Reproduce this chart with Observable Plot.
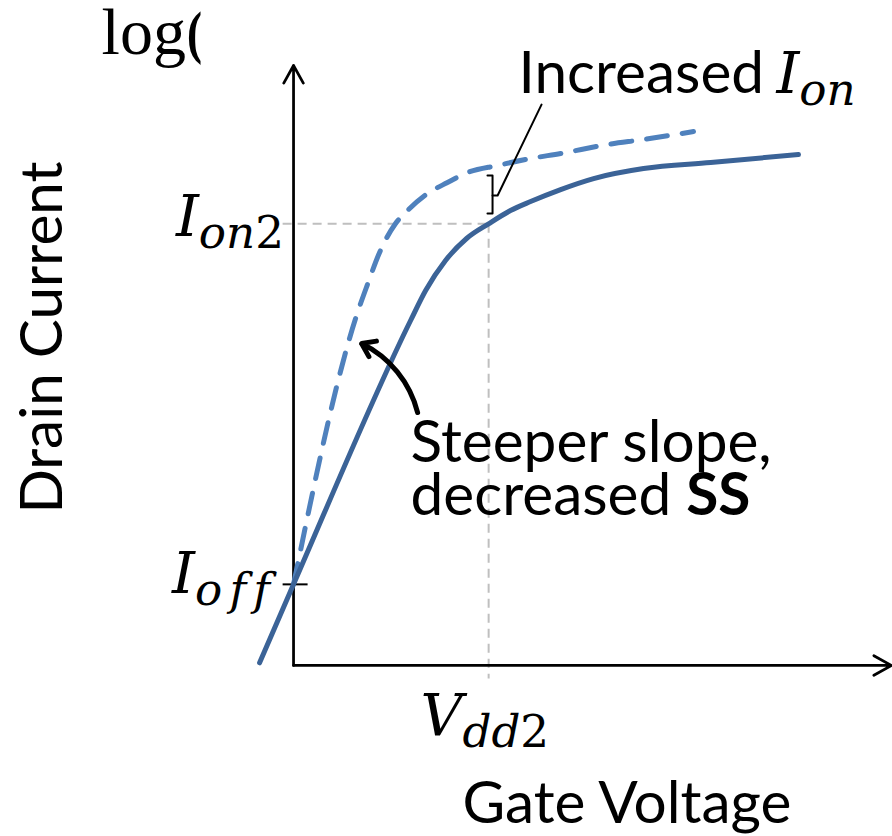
<!DOCTYPE html>
<html>
<head>
<meta charset="utf-8">
<script src="https://cdn.jsdelivr.net/npm/d3@7"></script>
<script src="https://cdn.jsdelivr.net/npm/@observablehq/plot@0.6"></script>
<style>
  body { margin: 0; background: #fff; }
  svg { display: block; }
</style>
</head>
<body>
<div id="chart"></div>
<script>
// Schematic transfer characteristic: log(drain current) vs gate voltage.
// Units are arbitrary: Vdd2 = 1 on the voltage axis, log-current in decades.
const IOFF = 0.9;
const ION2 = 4.9;
const VDD2 = 1;

// Baseline device (solid)
const baseVg   = [-0.174, 0, 0.600, 0.677, 0.779, 0.887, 1.0, 1.112, 1.215, 1.369, 1.538, 1.794, 2.138, 2.588];
const baseLogI = [0.03, 0.9, 3.827, 4.160, 4.493, 4.737, 4.9, 5.047, 5.147, 5.280, 5.402, 5.513, 5.580, 5.668];

// Steep-slope device (dashed)
const steepVg   = [0, 0.328, 0.379, 0.441, 0.523, 0.584, 0.687, 0.789, 0.892, 1.046, 1.215, 1.369, 1.609, 1.794, 2.050];
const steepLogI = [0.9, 3.916, 4.227, 4.582, 4.904, 5.047, 5.236, 5.358, 5.469, 5.547, 5.624, 5.680, 5.779, 5.835, 5.923];

// Axis extents
const vgMax = 3.065;
const logIMax = 6.656;

// Bracket marking the on-current gain at Vdd2, and its leader line
const bracketVg   = [0.994, 1.020, 1.020, 0.994];
const bracketLogI = [5.435, 5.435, 5.014, 5.014];
const leaderVg    = [1.020, 1.046, 1.271];
const leaderLogI  = [5.214, 5.214, 6.222];

// Curved pointer to the steeper subthreshold region
const pointer = [{x1: 0.636, y1: 2.806, x2: 0.349, y2: 3.572}];

// Text labels
const plainLabels = [
  {text: "Increased",      x: 1.153, y: 6.356},
  {text: "Steeper slope,", x: 0.600, y: 2.252},
  {text: "decreased SS",   x: 0.600, y: 1.664},
  {text: "Gate Voltage",   x: 0.866, y: -1.752}
];
const mathLabels = [
  {main: "I", sub: "on",  digits: "2", x: -0.603, y: 4.759},
  {main: "I", sub: "off", digits: "",  x: -0.623, y: 0.799},
  {main: "V", sub: "dd",  digits: "2", x: 0.651,  y: -0.776},
  {main: "I", sub: "on",  digits: "",  x: 2.475,  y: 6.356}
];
const yTitle = [{text: "Drain Current", x: -1.281, y: 3.638}];
const logTitle = [{text: "log(", x: -0.984, y: 6.789}];

const zip = (xs, ys) => xs.map((x, i) => ({x, y: ys[i]}));
const base = zip(baseVg, baseLogI);
const steep = zip(steepVg, steepLogI);
const bracket = zip(bracketVg, bracketLogI);
const leader = zip(leaderVg, leaderLogI);

const SANS = "Lato, 'Open Sans', sans-serif";
const MATH = "'DejaVu Serif', serif";

const chart = Plot.plot({
  width: 892,
  height: 836,
  margin: 0,
  x: {domain: [-1.502, 3.070], axis: null},
  y: {domain: [-1.897, 7.377], axis: null},
  style: {background: "#fff", overflow: "visible"},
  marks: [
    // dashed guides to Ion2 and Vdd2
    Plot.link([{x1: -0.056, y1: ION2, x2: VDD2, y2: ION2}, {x1: VDD2, y1: ION2, x2: VDD2, y2: -0.144}], {
      x1: "x1", y1: "y1", x2: "x2", y2: "y2",
      stroke: "#bfbfbf", strokeWidth: 2, strokeDasharray: "9,6"
    }),
    // Ioff tick
    Plot.link([{x1: -0.056, y1: IOFF, x2: 0.072, y2: IOFF}], {
      x1: "x1", y1: "y1", x2: "x2", y2: "y2", stroke: "#000", strokeWidth: 2
    }),
    // axes with arrowheads
    Plot.arrow([{x1: 0, y1: 0, x2: vgMax, y2: 0}, {x1: 0, y1: 0, x2: 0, y2: logIMax}], {
      x1: "x1", y1: "y1", x2: "x2", y2: "y2",
      stroke: "#000", strokeWidth: 2.75, headLength: 11, headAngle: 58
    }),
    // transfer curves
    Plot.line(steep, {x: "x", y: "y", curve: "monotone-x", stroke: "#4f81bd", strokeWidth: 5, strokeDasharray: "21,15"}),
    Plot.line(base, {x: "x", y: "y", curve: "monotone-x", stroke: "#3b6397", strokeWidth: 5}),
    // bracket and leader
    Plot.line(bracket, {x: "x", y: "y", stroke: "#000", strokeWidth: 2, curve: "linear"}),
    Plot.line(leader, {x: "x", y: "y", stroke: "#000", strokeWidth: 2, curve: "linear"}),
    // curved pointer
    Plot.arrow(pointer, {
      x1: "x1", y1: "y1", x2: "x2", y2: "y2",
      bend: -25, stroke: "#000", strokeWidth: 5, headLength: 4.5, headAngle: 70
    }),
    // labels
    Plot.text(plainLabels, {x: "x", y: "y", text: "text", textAnchor: "start", lineAnchor: "bottom",
      fontFamily: SANS, fontSize: 58.5, fill: "#000"}),
    Plot.text(yTitle, {x: "x", y: "y", text: "text", rotate: -90, textAnchor: "middle", lineAnchor: "middle",
      fontFamily: SANS, fontSize: 58.5, fill: "#000"}),
    Plot.text(mathLabels, {x: "x", y: "y", text: d => d.main + d.sub + d.digits, textAnchor: "start", lineAnchor: "bottom",
      fontFamily: MATH, fontSize: 58, fill: "#000"}),
    Plot.text(logTitle, {x: "x", y: "y", text: "text", textAnchor: "start", lineAnchor: "bottom",
      fontFamily: "'Liberation Serif', serif", fontSize: 66, fill: "#000"})
  ]
});

// Typeset math labels (italic symbol with subscript) and the bold "SS"
const svg = d3.select(chart);
const mathByText = new Map(mathLabels.map(d => [d.main + d.sub + d.digits, d]));
svg.selectAll("text").each(function () {
  const content = this.textContent;
  const t = d3.select(this);
  if (mathByText.has(content)) {
    const d = mathByText.get(content);
    t.text(null);
    t.append("tspan").attr("font-style", "italic").text(d.main);
    const sub = t.append("tspan").attr("font-style", "italic").attr("font-size", "0.78em").attr("dy", 12).text(d.sub);
    if (d.sub === "off") sub.attr("letter-spacing", "0.16em");
    if (d.digits) t.append("tspan").attr("font-style", "normal").attr("font-size", "0.78em").text(d.digits);
  } else if (content === "decreased SS") {
    t.text(null);
    t.append("tspan").text("decreased ");
    t.append("tspan").attr("font-weight", "bold").text("SS");
  } else if (content === "log(") {
    // the opening parenthesis is cut off at the left edge of the plot area
    const id = "log-clip";
    svg.insert("defs", ":first-child").append("clipPath").attr("id", id)
      .attr("clipPathUnits", "userSpaceOnUse")
      .append("rect").attr("x", 0).attr("y", 0).attr("width", 200).attr("height", 836);
    d3.select(this.parentNode).attr("clip-path", `url(#${id})`);
  }
});

document.getElementById("chart").append(chart);
</script>
</body>
</html>
